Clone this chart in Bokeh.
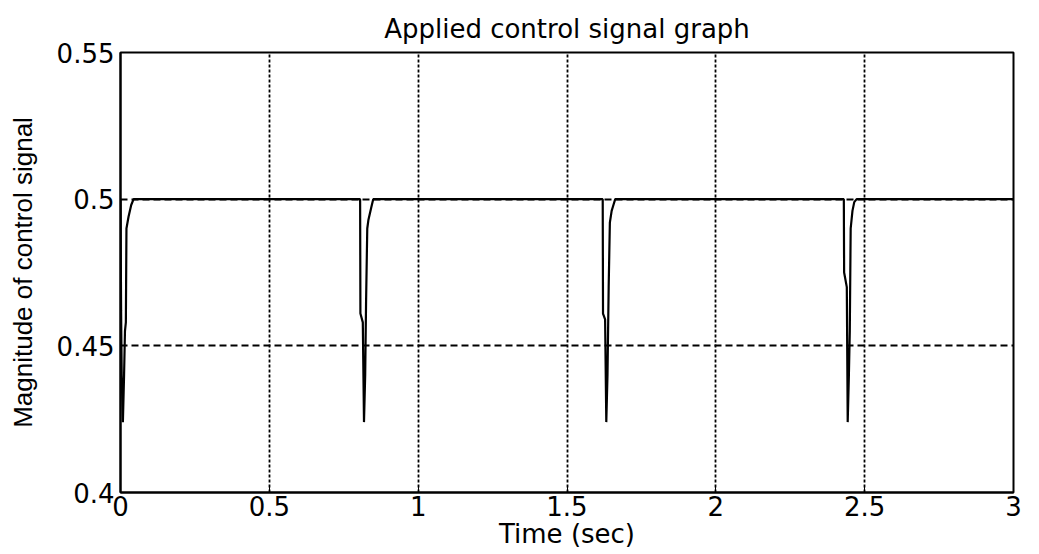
from bokeh.plotting import figure
from bokeh.models import FixedTicker, Range1d
from bokeh.embed import file_html
from bokeh.resources import INLINE

# Control signal samples (time in s, magnitude)
time = [
    0.000, 0.002, 0.004, 0.008, 0.012, 0.015, 0.018, 0.020, 0.027, 0.036, 0.044,
    0.805, 0.806, 0.814, 0.818, 0.822, 0.825, 0.829, 0.833, 0.842, 0.849,
    1.620, 1.621, 1.628, 1.632, 1.636, 1.640, 1.644, 1.650, 1.656, 1.662,
    2.430, 2.431, 2.440, 2.443, 2.447, 2.450, 2.453, 2.459, 2.465, 2.473,
    3.000,
]
signal = [
    0.500, 0.462, 0.440, 0.424, 0.440, 0.455, 0.458, 0.490, 0.494, 0.498, 0.500,
    0.500, 0.461, 0.458, 0.424, 0.440, 0.465, 0.490, 0.493, 0.497, 0.500,
    0.500, 0.461, 0.459, 0.424, 0.440, 0.470, 0.492, 0.496, 0.498, 0.500,
    0.500, 0.475, 0.470, 0.424, 0.440, 0.455, 0.490, 0.496, 0.499, 0.500,
    0.500,
]

x_ticks = [0, 0.5, 1, 1.5, 2, 2.5, 3]
x_tick_labels = ["0", "0.5", "1", "1.5", "2", "2.5", "3"]
y_ticks = [0.4, 0.45, 0.5, 0.55]
y_tick_labels = ["0.4", "0.45", "0.5", "0.55"]

FONT = "DejaVu Sans"

p = figure(
    frame_width=893, frame_height=440,
    x_range=Range1d(0, 3), y_range=Range1d(0.4, 0.55),
    output_backend="svg", toolbar_location=None,
    title="Applied control signal graph",
    min_border_left=120, min_border_right=26, min_border_top=52, min_border_bottom=62,
)
p.background_fill_color = "white"
p.border_fill_color = "white"
p.outline_line_color = "black"
p.outline_line_width = 2
p.outline_line_alpha = 1.0

p.title.text_font = FONT
p.title.text_font_size = "26px"
p.title.text_font_style = "normal"
p.title.align = "center"
p.title.text_color = "black"
p.title.standoff = 17

for ax in (p.xaxis[0], p.yaxis[0]):
    ax.axis_line_color = "black"
    ax.axis_line_width = 2
    ax.major_tick_in = 6
    ax.major_tick_out = 0
    ax.minor_tick_line_color = None
    ax.major_tick_line_color = "black"
    ax.major_label_text_font = FONT
    ax.major_label_text_font_size = "26px"
    ax.major_label_text_color = "black"

p.xaxis.ticker = FixedTicker(ticks=x_ticks)
p.yaxis.ticker = FixedTicker(ticks=y_ticks)
p.xaxis.major_label_overrides = dict(zip(x_ticks, x_tick_labels))
p.yaxis.major_label_overrides = dict(zip(y_ticks, y_tick_labels))
p.xaxis.major_label_standoff = 3
p.yaxis.major_label_standoff = 6

p.xaxis.axis_label = "Time (sec)"
p.xaxis.axis_label_text_font = FONT
p.xaxis.axis_label_text_font_size = "26px"
p.xaxis.axis_label_text_font_style = "normal"
p.xaxis.axis_label_text_color = "black"
p.xaxis.axis_label_standoff = 0

p.yaxis.axis_label = "Magnitude of control signal"
p.yaxis.axis_label_text_font = "Liberation Sans"
p.yaxis.axis_label_text_font_size = "26px"
p.yaxis.axis_label_text_font_style = "normal"
p.yaxis.axis_label_text_color = "black"
p.yaxis.axis_label_standoff = 16

p.xgrid.grid_line_color = "black"
p.xgrid.grid_line_width = 1.8
p.xgrid.grid_line_dash = "3 2"
p.ygrid.grid_line_color = "black"
p.ygrid.grid_line_width = 1.8
p.ygrid.grid_line_dash = "7 4"

p.line(time, signal, line_color="black", line_width=2.2)

open("out.html", "w").write(file_html(p, INLINE))
